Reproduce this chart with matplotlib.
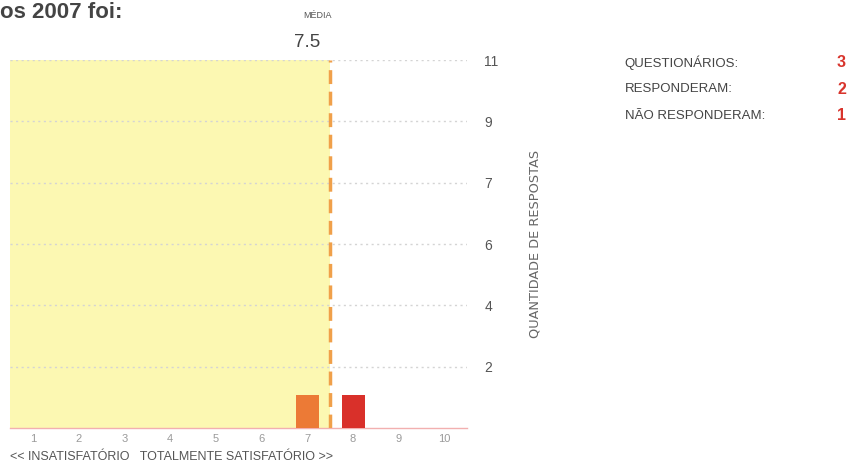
import matplotlib
matplotlib.use("Agg")
import matplotlib.pyplot as plt
import numpy as np

# Survey data
scores = [1, 2, 3, 4, 5, 6, 7, 8, 9, 10]
counts = [0, 0, 0, 0, 0, 0, 1, 1, 0, 0]
bar_colors = ["#e8793a"] * 6 + ["#ec7a36", "#d9302a"] + ["#d9302a"] * 2
mean_score = 7.5
y_max = 11
summary_labels = ["QUESTIONÁRIOS:", "RESPONDERAM:", "NÃO RESPONDERAM:"]
summary_values = [3, 2, 1]

plt.rcParams["font.family"] = ["Liberation Sans", "DejaVu Sans"]

fig = plt.figure(figsize=(8.52, 4.67), dpi=100)
ax = fig.add_axes([0.0117, 0.0835, 0.537, 0.788])

ax.set_xlim(0.5, 10.5)
ax.set_ylim(0, y_max)

# shaded region up to the mean
ax.axvspan(0.5, mean_score, color="#fcf8b2", zorder=0, lw=0)

# dotted gridlines at six even steps
grid_pos = [y_max * k / 6 for k in range(1, 7)]
for g in grid_pos:
    ax.axhline(g, color="#d4d4d4", lw=1.0, ls=(0, (1.5, 2.5)), zorder=1)

ax.bar(scores, counts, width=0.5, color=bar_colors, zorder=3)

# mean line
ax.plot([mean_score, mean_score], [0, y_max], color="#f0a04a", lw=2.5,
        ls=(0, (4, 2.2)), zorder=4)

for s in ["top", "left", "right"]:
    ax.spines[s].set_visible(False)
ax.spines["bottom"].set_color("#f2b0b0")
ax.spines["bottom"].set_linewidth(1.0)

ax.set_xticks(scores)
ax.set_xticklabels([str(s) for s in scores], fontsize=8, color="#9a9a9a")
ax.tick_params(axis="x", length=0, pad=4)

ax.yaxis.tick_right()
ax.set_yticks(grid_pos)
ax.set_yticklabels([str(int(np.floor(g + 0.5))) for g in grid_pos],
                   fontsize=10, color="#555555")
ax.tick_params(axis="y", length=0, pad=12)

ax.set_ylabel("QUANTIDADE DE RESPOSTAS", fontsize=9.3, color="#666666",
              rotation=90, labelpad=22, family=["DejaVu Sans"])
ax.yaxis.set_label_position("right")

fig.text(10 / 852, 0.008, "<< INSATISFATÓRIO   TOTALMENTE SATISFATÓRIO >>",
         fontsize=9, color="#555555", ha="left", va="bottom")

fig.text(0.0, 0.996, "os 2007 foi:", fontsize=16, fontweight="bold",
         color="#444444", ha="left", va="top")
fig.text(0.373, 0.967, "MÉDIA", fontsize=6.5, color="#555555", ha="center",
         va="center")
fig.text(0.361, 0.908, f"{mean_score}", fontsize=13.5, color="#444444",
         ha="center", va="center")

for i, (lab, val) in enumerate(zip(summary_labels, summary_values)):
    y = 0.866 - i * 0.057
    fig.text(0.733, y, lab, fontsize=9.5, color="#444444", ha="left",
             va="center")
    fig.text(0.993, y, str(val), fontsize=11.5, color="#d8342c",
             fontweight="bold", ha="right", va="center")

fig.savefig("out.png", dpi=100)
